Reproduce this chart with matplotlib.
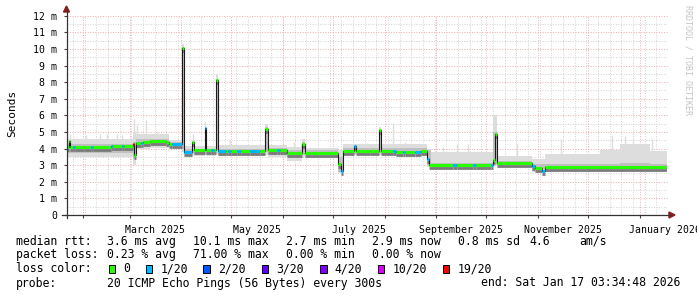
import datetime as dt
import matplotlib
matplotlib.use("Agg")
import matplotlib.pyplot as plt
import numpy as np
from matplotlib.patches import Rectangle, Polygon
from matplotlib.lines import Line2D
from matplotlib.ticker import MultipleLocator, FuncFormatter
from matplotlib.transforms import offset_copy

END = dt.datetime(2026, 1, 17, 3, 34, 48)
SPAN = 360  # days shown
START = END - dt.timedelta(days=SPAN)

# median rtt in ms, as steps: start day (days after START), value, loss class
med_day = [0.0, 1.5, 2.1, 3.9, 5.1, 10.5, 14.7, 15.9, 26.7, 27.9, 33.3, 34.5,
           39.6, 40.5, 41.4, 44.7, 45.9, 50.1, 59.7, 61.5, 63.3, 69.3, 70.2,
           75.3, 76.2, 82.8, 83.4, 86.7, 88.5, 89.4, 90.6, 95.7, 97.1, 98.5,
           102.1, 104.5, 110.1, 116.1, 119.1, 120.7, 126.1, 128.1, 132.1,
           141.5, 142.8, 163.1, 164.5, 165.7, 172.5, 173.5, 182.1, 187.5,
           188.7, 196.1, 197.5, 201.7, 203.1, 209.1, 212.5, 216.1, 217.7,
           232.1, 234.1, 244.1, 245.5, 254.7, 256.1, 257.1, 258.5, 279.1,
           281.1, 285.1, 287.1]
med_ms = [4.12, 4.45, 4.12, 4.12, 4.12, 4.08, 4.10, 4.12, 4.15, 4.15, 4.15, 4.15,
          4.30, 3.60, 4.36, 4.36, 4.38, 4.46, 4.42, 4.28, 4.28, 10.05, 3.78,
          4.42, 3.92, 5.25, 3.92, 3.92, 3.92, 8.10, 3.88, 3.88, 3.88, 3.88,
          3.88, 3.88, 3.88, 3.88, 5.20, 3.92, 3.92, 3.92, 3.74,
          4.30, 3.75, 3.10, 2.67, 3.88, 4.14, 3.88, 3.85, 5.13,
          3.88, 3.85, 3.82, 3.82, 3.80, 3.82, 3.85, 3.35, 3.02,
          3.00, 3.00, 3.00, 3.00, 3.00, 3.30, 4.87, 3.12, 2.96,
          2.86, 2.67, 2.92]
med_loss = [0, 0, 0, 1, 0, 0, 1, 0, 1, 0, 1, 0,
            6, 0, 0, 1, 0, 0, 0, 0, 1, 0, 1,
            0, 0, 1, 0, 1, 0, 0, 1, 0, 1, 0,
            1, 0, 1, 0, 0, 0, 1, 0, 0,
            0, 0, 0, 1, 0, 1, 0, 0, 0,
            0, 1, 0, 1, 0, 1, 0, 1, 0,
            1, 0, 1, 0, 1, 0, 0, 0, 1,
            0, 1, 0]

# smoke (spread of the 20 pings), as steps
smoke_day = [0.0, 39.9, 41.7, 50.1, 61.5, 69.3, 70.2, 82.8, 83.4, 89.4, 90.6,
             119.1, 120.7, 132.1, 141.5, 142.8, 163.1, 165.7, 187.5, 188.7,
             216.1, 218.7, 256.1, 258.5, 279.1, 287.1, 320.1, 332.1, 350.1]
smoke_lo = [3.50, 3.00, 4.00, 4.05, 4.10, 3.80, 3.55, 3.60, 3.55, 3.70, 3.55,
            3.60, 3.50, 3.25, 3.50, 3.45, 2.50, 3.60, 3.60, 3.60,
            2.90, 2.85, 2.95, 2.95, 2.60, 2.80, 2.80, 2.80, 2.80]
smoke_mlo = [3.75, 3.40, 4.15, 4.25, 4.20, 4.00, 3.70, 3.80, 3.70, 3.90, 3.70,
             3.80, 3.70, 3.50, 3.60, 3.60, 2.60, 3.70, 3.75, 3.70,
             3.00, 2.90, 3.05, 3.02, 2.75, 2.85, 2.85, 2.85, 2.85]
smoke_mhi = [4.25, 4.40, 4.55, 4.60, 4.40, 10.10, 4.00, 5.30, 4.00, 8.20, 4.00,
             5.30, 4.05, 3.90, 4.40, 3.90, 3.50, 4.05, 5.20, 4.05,
             3.90, 3.15, 5.00, 3.25, 3.10, 3.05, 3.10, 3.15, 3.10]
smoke_hi = [4.60, 5.00, 4.90, 4.85, 4.50, 10.30, 4.15, 5.60, 4.15, 8.50, 4.20,
            5.50, 4.20, 4.10, 4.60, 4.05, 3.90, 4.30, 5.30, 4.30,
            4.00, 3.80, 6.00, 3.55, 3.40, 3.70, 3.90, 4.30, 3.85]

# single slow pings poking out of the smoke
spike_day = [2.1, 11.7, 20.1, 24.3, 30.3, 33.3, 40.2, 42.3, 47.4, 54.3, 75.9,
             98.1, 136.5, 140.7, 180.0, 195.9, 203.1, 225.7, 234.1, 241.1,
             270.1, 296.7, 327.1, 335.1, 339.9, 351.1]
spike_top = [4.90, 4.80, 4.85, 4.85, 4.85, 4.80, 5.80, 5.40, 5.70, 5.00, 4.85,
             4.50, 4.40, 4.30, 4.35, 5.55, 4.40, 4.10, 4.25, 4.30,
             4.30, 4.60, 4.80, 4.75, 4.60, 4.60]

loss_labels = ["0", "1/20", "2/20", "3/20", "4/20", "10/20", "19/20"]
loss_colors = ["#26ff00", "#00b8ff", "#0059ff", "#5e00ff", "#7e00ff",
               "#dd00ff", "#ff0000"]
month_labels = [(2025, 3, "March 2025"), (2025, 5, "May 2025"),
                (2025, 7, "July 2025"), (2025, 9, "September 2025"),
                (2025, 11, "November 2025"), (2026, 1, "January 2026")]

W, H = 697, 297
MONO = "DejaVu Sans Mono"


def day_of(t):
    return (t - START).total_seconds() / 86400.0


def fx(px):
    return px / W


def fy(py):
    return 1 - py / H


fig = plt.figure(figsize=(W / 100, H / 100), dpi=100)
fig.patch.set_facecolor("white")
ax = fig.add_axes([fx(66.5), fy(215), 600 / W, 199.3 / H])
ax.set_xlim(0, SPAN)
ax.set_ylim(0, 12)
for s in ax.spines.values():
    s.set_visible(False)

# grid: weekly / half-ms gray, monthly / ms red
d = START.date()
weeks, months = [], []
while d <= END.date():
    t = dt.datetime(d.year, d.month, d.day)
    if t > START:
        if d.weekday() == 6:
            weeks.append(day_of(t))
        if d.day == 1:
            months.append(day_of(t))
    d += dt.timedelta(days=1)
dots = (0, (1, 1.6))
for x in weeks:
    ax.axvline(x, color="#d2d2d2", lw=0.7, ls=dots, zorder=0)
for v in np.arange(0.5, 12, 1.0):
    ax.axhline(v, color="#d2d2d2", lw=0.7, ls=dots, zorder=0)
for x in months:
    ax.axvline(x, color="#eeacac", lw=0.7, ls=dots, zorder=0.5)
for v in range(1, 13):
    ax.axhline(v, color="#eeacac", lw=0.7, ls=dots, zorder=0.5, clip_on=False)

# smoke
sx = smoke_day + [SPAN]
ax.fill_between(sx, smoke_lo + smoke_lo[-1:], smoke_hi + smoke_hi[-1:],
                step="post", color="#dddddd", lw=0, zorder=1)
base = np.array(smoke_hi)[np.searchsorted(smoke_day, spike_day, side="right") - 1]
ax.vlines(spike_day, base, spike_top, color="#dddddd", lw=1.0, zorder=1)
ax.fill_between(sx, smoke_mlo + smoke_mlo[-1:], smoke_mhi + smoke_mhi[-1:],
                step="post", color="#c0c0c0", lw=0, zorder=2)

mx = med_day + [SPAN]
my = med_ms + med_ms[-1:]
down = offset_copy(ax.transData, fig=fig, x=0, y=-3, units="dots")
ax.hlines(med_ms, mx[:-1], mx[1:], color="#7a7a7a", lw=2.0, transform=down, zorder=3)
ax.step(mx, my, where="post", color="#1a1a1a", lw=0.8, zorder=4)
for i, v in enumerate(med_ms):
    ax.plot([mx[i], mx[i + 1]], [v, v], color=loss_colors[med_loss[i]],
            lw=2.2, solid_capstyle="butt", zorder=5)

# axes, ticks, labels
ax.yaxis.set_major_locator(MultipleLocator(1))
ax.yaxis.set_major_formatter(FuncFormatter(lambda v, p: "0" if v == 0 else f"{v:.0f} m"))
ax.set_xticks(months)
ax.set_xticklabels([])
ax.tick_params(axis="x", length=2.5, width=0.8, color="#444444", direction="out")
ax.tick_params(axis="y", length=2, width=0.8, color="#444444", pad=4.5,
               labelsize=7.1, labelfontfamily=MONO)
for y, m, lab in month_labels:
    a = dt.datetime(y, m, 1)
    b = dt.datetime(y + (m == 12), m % 12 + 1, 1)
    ax.text(day_of(a + (b - a) / 2), -0.05, lab, transform=ax.get_xaxis_transform(),
            ha="center", va="top", family=MONO, fontsize=7.1, clip_on=False)

fig.add_artist(Line2D([fx(62), fx(670)], [fy(215), fy(215)], color="#333333",
                      lw=0.9, transform=fig.transFigure))
fig.add_artist(Line2D([fx(66.5), fx(66.5)], [fy(218), fy(11)], color="#333333",
                      lw=0.9, transform=fig.transFigure))
arrow = "#8b1c1c"
fig.add_artist(Polygon([(fx(669), fy(212)), (fx(669), fy(218)), (fx(675), fy(215))],
                       closed=True, color=arrow, transform=fig.transFigure))
fig.add_artist(Polygon([(fx(63.5), fy(12)), (fx(69.5), fy(12)), (fx(66.5), fy(6))],
                       closed=True, color=arrow, transform=fig.transFigure))

fig.text(fx(12), fy(113), "Seconds", rotation=90, ha="center", va="center",
         family=MONO, fontsize=8)
fig.text(fx(688), fy(60), "RRDTOOL / TOBI OETIKER", rotation=270, ha="center",
         va="center", family=MONO, fontsize=6, color="#c4c4c4")

# legend
rows = [
    (241.3, [(16, "median rtt:"), (107.3, "3.6 ms avg"), (193.3, "10.1 ms max"),
             (286, "2.7 ms min"), (372.3, "2.9 ms now"), (458.3, "0.8 ms sd"),
             (529.3, "4.6"), (579.3, "am/s")]),
    (254.7, [(16, "packet loss:"), (107.3, "0.23 % avg"), (193.3, "71.00 % max"),
             (286, "0.00 % min"), (372.3, "0.00 % now")]),
    (269, [(16, "loss color:")]),
    (283, [(16, "probe:"), (107.3, "20 ICMP Echo Pings (56 Bytes) every 300s")]),
]
for y, items in rows:
    for x, s in items:
        fig.text(fx(x), fy(y), s, ha="left", va="center", family=MONO, fontsize=8.3)
fig.text(fx(680), fy(283), "end: Sat Jan 17 03:34:48 2026", ha="right",
         va="center", family=MONO, fontsize=8.3)

box_x = [108.7, 145.7, 203.3, 261.7, 320, 377.7, 442.7]
for bx, lab, c in zip(box_x, loss_labels, loss_colors):
    fig.add_artist(Rectangle((fx(bx), fy(273)), 6.7 / W, 7.7 / H, facecolor=c,
                             edgecolor="black", lw=0.7, transform=fig.transFigure))
    fig.text(fx(bx + 14.6), fy(269), lab, ha="left", va="center", family=MONO,
             fontsize=8.3)

fig.savefig("out.png", dpi=100)
